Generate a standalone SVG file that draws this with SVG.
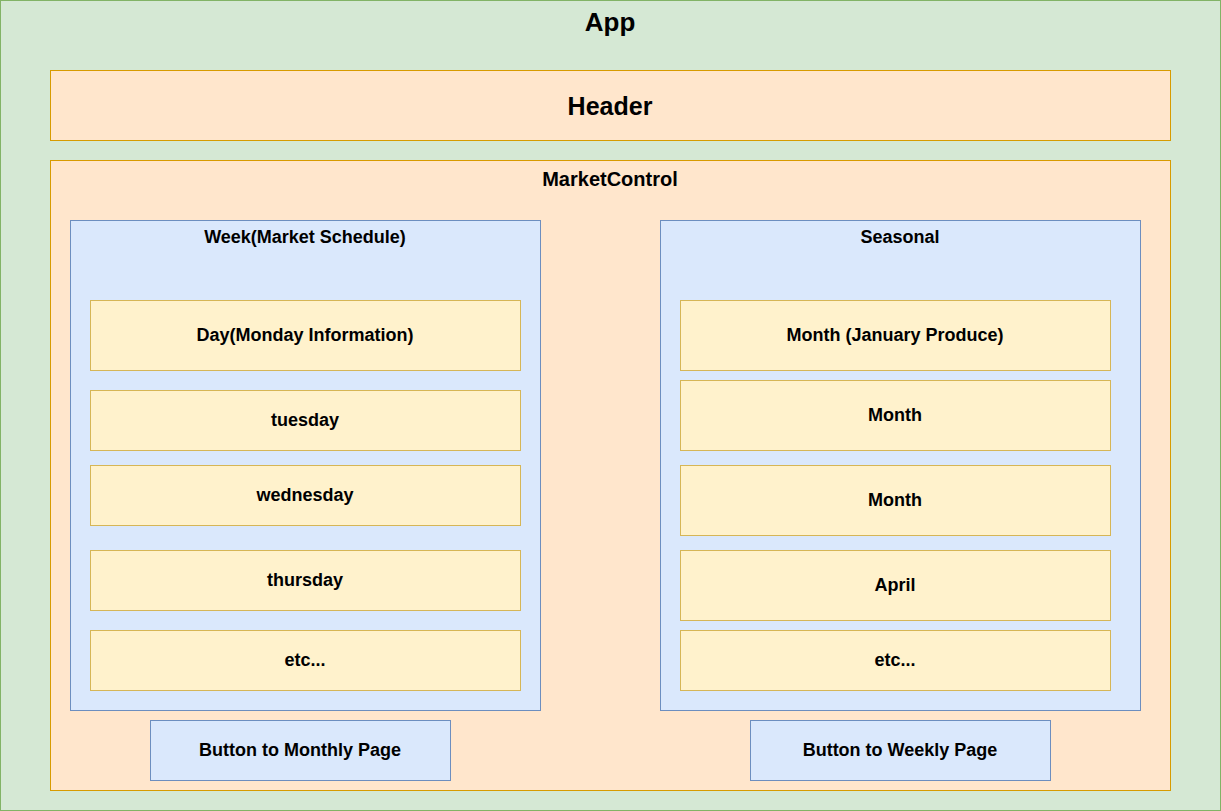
<svg xmlns="http://www.w3.org/2000/svg" width="1221" height="811" viewBox="0 0 1221 811">
<style>
text{font-family:"Liberation Sans",Arial,Helvetica,sans-serif;font-weight:bold;fill:#000;text-anchor:middle;dominant-baseline:central}
.g{fill:#d5e8d4;stroke:#82b366}
.o{fill:#ffe6cc;stroke:#d79b00}
.b{fill:#dae8fc;stroke:#6c8ebf}
.y{fill:#fff2cc;stroke:#d6b656}
.t26{font-size:26px}
.t25{font-size:25px}
.t20{font-size:20px}
.t18{font-size:18px}
</style>
<g id="app"><rect class="g" x="0.5" y="0.5" width="1220" height="810"/><text class="t26" x="610" y="22">App</text></g>
<g id="header"><rect class="o" x="50.5" y="70.5" width="1120" height="70"/><text class="t25" x="610" y="106">Header</text></g>
<g id="marketcontrol"><rect class="o" x="50.5" y="160.5" width="1120" height="630"/><text class="t20" x="610" y="179">MarketControl</text></g>
<g id="week"><rect class="b" x="70.5" y="220.5" width="470" height="490"/><text class="t18" x="305" y="237">Week(Market Schedule)</text></g>
<g id="seasonal"><rect class="b" x="660.5" y="220.5" width="480" height="490"/><text class="t18" x="900" y="237">Seasonal</text></g>
<g id="day-monday"><rect class="y" x="90.5" y="300.5" width="430" height="70"/><text class="t18" x="305" y="335">Day(Monday Information)</text></g>
<g id="tuesday"><rect class="y" x="90.5" y="390.5" width="430" height="60"/><text class="t18" x="305" y="420">tuesday</text></g>
<g id="wednesday"><rect class="y" x="90.5" y="465.5" width="430" height="60"/><text class="t18" x="305" y="495">wednesday</text></g>
<g id="thursday"><rect class="y" x="90.5" y="550.5" width="430" height="60"/><text class="t18" x="305" y="580">thursday</text></g>
<g id="etc-left"><rect class="y" x="90.5" y="630.5" width="430" height="60"/><text class="t18" x="305" y="660">etc...</text></g>
<g id="month-january"><rect class="y" x="680.5" y="300.5" width="430" height="70"/><text class="t18" x="895" y="335">Month (January Produce)</text></g>
<g id="month-2"><rect class="y" x="680.5" y="380.5" width="430" height="70"/><text class="t18" x="895" y="415">Month</text></g>
<g id="month-3"><rect class="y" x="680.5" y="465.5" width="430" height="70"/><text class="t18" x="895" y="500">Month</text></g>
<g id="april"><rect class="y" x="680.5" y="550.5" width="430" height="70"/><text class="t18" x="895" y="585">April</text></g>
<g id="etc-right"><rect class="y" x="680.5" y="630.5" width="430" height="60"/><text class="t18" x="895" y="660">etc...</text></g>
<g id="btn-monthly"><rect class="b" x="150.5" y="720.5" width="300" height="60"/><text class="t18" x="300" y="750">Button to Monthly Page</text></g>
<g id="btn-weekly"><rect class="b" x="750.5" y="720.5" width="300" height="60"/><text class="t18" x="900" y="750">Button to Weekly Page</text></g>
<g id="connectors"></g>
</svg>
